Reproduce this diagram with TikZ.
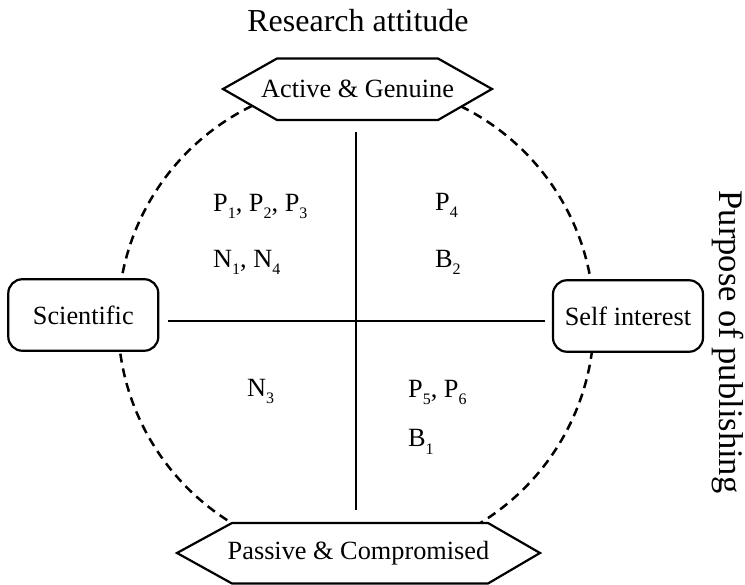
\documentclass[tikz,border=0pt]{standalone}
\usepackage{fontspec}
\setmainfont{Liberation Serif}
\newcommand{\sbx}[1]{\raisebox{-7pt}{\fontsize{16}{16}\selectfont #1}}
\begin{document}
\begin{tikzpicture}[x=1pt,y=-1pt,
  bodyfont/.style={font=\fontsize{26.3}{30}\selectfont},
  titlefont/.style={font=\fontsize{32}{36}\selectfont},
  sidefont/.style={font=\fontsize{34.5}{38}\selectfont},
  box/.style={draw, line width=2.2pt, rounded corners=14pt, fill=white,
    minimum width=150pt, minimum height=71.5pt, inner sep=0pt, bodyfont},
  hex/.style={draw, line width=2.2pt, fill=white, line join=miter},
  axis/.style={draw, line width=1.3pt},
  ring/.style={draw, line width=2.5pt, dash pattern=on 9pt off 6pt},
  lab/.style={inner sep=0pt, anchor=base west, bodyfont}]
\useasboundingbox (0,0) rectangle (745,585);
% dashed ring
\coordinate (o) at (356,320);
\draw[ring] (o) circle[radius=238];
% boxes
\node[box] (sci) at (83.3,315) {Scientific};
\node[box] (self) at (628,316) {Self interest};
% hexagons
\draw[hex] (223,89) -- (277,58.5) -- (438,58.5) -- (492,89) -- (438,120) -- (277,120) -- cycle;
\node[inner sep=0pt, bodyfont] (act) at (357.5,89) {Active \& Genuine};
\draw[hex] (177,553) -- (232,523) -- (488,523) -- (540,553) -- (488,583.5) -- (232,583.5) -- cycle;
\node[inner sep=0pt, bodyfont] (pas) at (358.5,553) {Passive \& Compromised};
% axes
\coordinate (vt) at (356,132);
\coordinate (vb) at (356,510);
\coordinate (hl) at (168,321);
\coordinate (hr) at (545,321);
\draw[axis] (vt) -- (vb);
\draw[axis] (hl) -- (hr);
% titles
\node[titlefont, inner sep=0pt, anchor=base] (t1) at (358,32) {Research attitude};
\node[sidefont, inner sep=0pt, anchor=base, rotate=-90] (t2) at (719,342) {Purpose of publishing};
% quadrant entries
\node[lab] (q1a) at (213,211.5) {P\sbx{1}, P\sbx{2}, P\sbx{3}};
\node[lab] (q1b) at (213,268) {N\sbx{1}, N\sbx{4}};
\node[lab] (q2a) at (435,211) {P\sbx{4}};
\node[lab] (q2b) at (435,268) {B\sbx{2}};
\node[lab] (q3a) at (247,397) {N\sbx{3}};
\node[lab] (q4a) at (408,398) {P\sbx{5}, P\sbx{6}};
\node[lab] (q4b) at (408,447) {B\sbx{1}};
\end{tikzpicture}
\end{document}
